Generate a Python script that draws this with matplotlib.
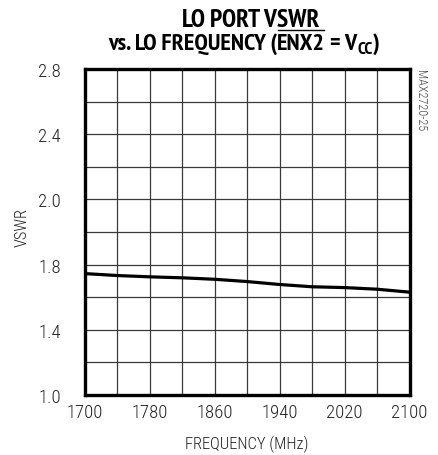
import matplotlib
matplotlib.use("Agg")
import matplotlib.pyplot as plt
from matplotlib import font_manager
from matplotlib.lines import Line2D
import numpy as np

# LO port VSWR vs. LO frequency
freq_mhz = [1700, 1740, 1780, 1820, 1860, 1900, 1940, 1980, 2020, 2060, 2100]
vswr = [1.745, 1.733, 1.725, 1.719, 1.710, 1.696, 1.678, 1.664, 1.659, 1.649, 1.631]

x_ticks = [1700, 1780, 1860, 1940, 2020, 2100]
y_tick_pos = [1.0, 1.4, 1.8, 2.2, 2.6, 3.0]
y_tick_labels = ["1.0", "1.4", "1.8", "2.0", "2.4", "2.8"]

installed = {f.name for f in font_manager.fontManager.ttflist}


def pick(*cands):
    for c in cands:
        if c in installed:
            return c
    return "DejaVu Sans"


REG = pick("Roboto Condensed", "Archivo Narrow", "PT Sans Narrow", "Liberation Sans")
BOLD = pick("PT Sans Narrow", "Asap Condensed", "Roboto Condensed", "Liberation Sans")
REG_W = 300
plt.rcParams["font.family"] = [REG, "DejaVu Sans"]

W, H = 438, 456
fig = plt.figure(figsize=(W / 100, H / 100), dpi=100)
ax = fig.add_axes([84.5 / W, 1 - 396 / H, (409.5 - 84.5) / W, (396 - 70) / H])
renderer = fig.canvas.get_renderer()


def px(x, y):
    return x / W, 1 - y / H


def fit_text(x, y, s, width, **kw):
    t = fig.text(*px(x, y), s, **kw)
    w = t.get_window_extent(renderer).width
    t.set_fontsize(t.get_fontsize() * width / w)
    return t


ax.set_xlim(1700, 2100)
ax.set_ylim(1.0, 3.0)

# grid
for xv in np.arange(1740, 2100, 40):
    ax.axvline(xv, color="#3a3a3a", lw=0.9, zorder=1)
for yv in np.arange(1.2, 3.0, 0.2):
    ax.axhline(yv, color="#3a3a3a", lw=0.9, zorder=1)

ax.plot(freq_mhz, vswr, color="black", lw=2.3, zorder=3, solid_capstyle="butt")

for s in ax.spines.values():
    s.set_linewidth(2.4)
    s.set_color("black")
    s.set_zorder(4)

tick_color = "#222222"
ax.set_xticks(x_ticks)
ax.set_xticklabels([str(v) for v in x_ticks], fontsize=13.5, color=tick_color,
                   fontweight=REG_W)
ax.set_yticks(y_tick_pos)
ax.set_yticklabels(y_tick_labels, fontsize=13.5, color=tick_color, fontweight=REG_W)
ax.tick_params(length=0)
ax.tick_params(axis="x", pad=6)
ax.tick_params(axis="y", pad=17)

fit_text(246.5, 444, "FREQUENCY (MHz)", 123, ha="center", va="center",
         fontsize=12, color=tick_color, fontweight=REG_W)
t = fig.text(*px(22.5, 227.5), "VSWR", rotation=90, ha="center", va="center",
             fontsize=12, color=tick_color, fontweight=REG_W)
h = t.get_window_extent(renderer).height
t.set_fontsize(t.get_fontsize() * 39 / h)

# title, line 1
fit_text(251, 27, "LO PORT VSWR", 138, ha="center", va="baseline",
         fontsize=15, fontweight="bold", family=[BOLD, "DejaVu Sans"])

# title, line 2 assembled from pieces: overlined ENX2 and subscript CC
title_fs = 15
pieces = [("vs. LO FREQUENCY (", 1.0, 0), ("ENX2", 1.0, 0), (" = V", 1.0, 0),
          ("CC", 0.72, -4), (")", 1.0, 0)]


def build(fs, draw):
    x = 0.0
    made = []
    for s, scale, dy in pieces:
        tt = fig.text(0, 0, s, fontsize=fs * scale, fontweight="bold",
                      family=[BOLD, "DejaVu Sans"], ha="left", va="baseline")
        w = tt.get_window_extent(renderer).width
        made.append((tt, x, dy, w))
        x += w
    if not draw:
        for tt, *_ in made:
            tt.remove()
    return x, made


total, _ = build(title_fs, False)
title_fs *= 272 / total
total, made = build(title_fs, True)
x0 = 108
base_y = 49.5
for tt, xo, dy, w in made:
    tt.set_position(px(x0 + xo, base_y - dy))
    if tt.get_text() == "ENX2":
        fig.add_artist(Line2D([(x0 + xo + 1) / W, (x0 + xo + w - 1) / W],
                              [1 - 31 / H, 1 - 31 / H], color="black", lw=1.0))

t = fig.text(*px(421, 101), "MAX2720-25", rotation=270, ha="center", va="center",
             fontsize=7, color="#444444", fontweight=REG_W)
h = t.get_window_extent(renderer).height
t.set_fontsize(t.get_fontsize() * 62 / h)

fig.savefig("out.png", dpi=100)
